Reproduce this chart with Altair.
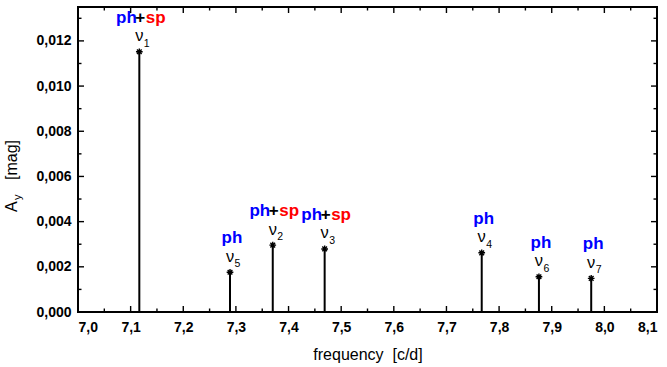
import altair as alt
import pandas as pd

# ---- data ----
freq = [7.1165, 7.3700, 7.4686, 7.7670, 7.2888, 7.8757, 7.9750]
amp = [0.01152, 0.00296, 0.00279, 0.00262, 0.00176, 0.00156, 0.00149]
sub = ["1", "2", "3", "4", "5", "6", "7"]
kind = ["ph+sp", "ph+sp", "ph+sp", "ph", "ph", "ph", "ph"]

x_major = [7.0, 7.1, 7.2, 7.3, 7.4, 7.5, 7.6, 7.7, 7.8, 7.9, 8.0, 8.1]
x_minor = [7.05, 7.15, 7.25, 7.35, 7.45, 7.55, 7.65, 7.75, 7.85, 7.95, 8.05]
y_major = [0.000, 0.002, 0.004, 0.006, 0.008, 0.010, 0.012]
y_minor = [0.001, 0.003, 0.005, 0.007, 0.009, 0.011, 0.013]

W, H = 579, 305
FONT = "Liberation Sans"

df = pd.DataFrame({"freq": freq, "amp": amp, "sub": sub, "kind": kind})
df_sp = df[df["kind"] == "ph+sp"]
df_ph = df[df["kind"] == "ph"]

xscale = alt.Scale(domain=[7.0, 8.1], nice=False, zero=False)
yscale = alt.Scale(domain=[0, 0.0135], nice=False, zero=True)

xaxis = alt.Axis(
    values=x_major, labelExpr="replace(format(datum.value, '.1f'), '.', ',')",
    ticks=False, domain=False, grid=False, labelPadding=8,
    title="frequency\u00a0\u00a0[c/d]", titleFontWeight="normal", titleFontSize=16,
    titlePadding=12, labelFontWeight="bold", labelFontSize=14, labelFont=FONT,
    titleFont=FONT, labelColor="black", titleColor="black",
)
yaxis = alt.Axis(
    values=y_major, labelExpr="replace(format(datum.value, '.3f'), '.', ',')",
    ticks=False, domain=False, grid=False, labelPadding=7, title=None,
    labelFontWeight="bold", labelFontSize=14, labelFont=FONT, labelColor="black",
)

X = alt.X("freq:Q", scale=xscale, axis=xaxis)
Y = alt.Y("amp:Q", scale=yscale, axis=yaxis)

stems = alt.Chart(df).mark_rule(color="black", strokeWidth=2).encode(
    x=X, y=Y, y2=alt.datum(0)
)

ASTER = "M-1,0L1,0M0,-1L0,1M-0.7,-0.7L0.7,0.7M-0.7,0.7L0.7,-0.7"
stars = alt.Chart(df).mark_point(
    shape=ASTER, size=45, filled=False, strokeWidth=1.4, color="black", opacity=1
).encode(x=X, y=Y)

nu = alt.Chart(df).mark_text(
    text="ν", font=FONT, fontSize=16.5, baseline="alphabetic", align="center",
    dy=-10.5, color="black"
).encode(x=X, y=Y)

nusub = alt.Chart(df).mark_text(
    font=FONT, fontSize=10.5, baseline="alphabetic", align="left",
    dx=4.5, dy=-5, color="black"
).encode(x=X, y=Y, text="sub:N")

lab_kw = dict(font=FONT, fontSize=17, fontWeight="bold", baseline="alphabetic", dy=-29)
ph_only = alt.Chart(df_ph).mark_text(text="ph", align="center", dx=2, color="#0000ff", **lab_kw).encode(x=X, y=Y)
ph_sp1 = alt.Chart(df_sp).mark_text(text="ph", align="right", dx=-2.5, color="#0000ff", **lab_kw).encode(x=X, y=Y)
ph_sp2 = alt.Chart(df_sp).mark_text(text="+", align="center", dx=1, color="black", **lab_kw).encode(x=X, y=Y)
ph_sp3 = alt.Chart(df_sp).mark_text(text="sp", align="left", dx=6.5, color="#ff0000", **lab_kw).encode(x=X, y=Y)

# ---- inward ticks on all four sides ----
dxM = pd.DataFrame({"freq": x_major})
dxm = pd.DataFrame({"freq": x_minor})
dyM = pd.DataFrame({"amp": y_major})
dym = pd.DataFrame({"amp": y_minor})
tk = dict(color="black", strokeWidth=1.4)
ticks = [
    alt.Chart(dxM).mark_rule(**tk).encode(x=X, y=alt.value(H), y2=alt.value(H - 6)),
    alt.Chart(dxm).mark_rule(**tk).encode(x=X, y=alt.value(H), y2=alt.value(H - 3.5)),
    alt.Chart(dxM).mark_rule(**tk).encode(x=X, y=alt.value(0), y2=alt.value(6)),
    alt.Chart(dxm).mark_rule(**tk).encode(x=X, y=alt.value(0), y2=alt.value(3.5)),
    alt.Chart(dyM).mark_rule(**tk).encode(y=Y, x=alt.value(0), x2=alt.value(6)),
    alt.Chart(dym).mark_rule(**tk).encode(y=Y, x=alt.value(0), x2=alt.value(3.5)),
    alt.Chart(dyM).mark_rule(**tk).encode(y=Y, x=alt.value(W), x2=alt.value(W - 6)),
    alt.Chart(dym).mark_rule(**tk).encode(y=Y, x=alt.value(W), x2=alt.value(W - 3.5)),
]

# ---- y title with subscript ----
one = pd.DataFrame({"a": [1]})
yt_kw = dict(font=FONT, fontSize=16, angle=270, align="left", baseline="alphabetic", color="black")
ytitle = [
    alt.Chart(one).mark_text(text="A", **yt_kw).encode(x=alt.value(-61), y=alt.value(205)),
    alt.Chart(one).mark_text(text="y", font=FONT, fontSize=11, angle=270, align="left",
                             baseline="alphabetic", color="black").encode(x=alt.value(-57), y=alt.value(193)),
    alt.Chart(one).mark_text(text="[mag]", **yt_kw).encode(x=alt.value(-61), y=alt.value(173)),
]

chart = alt.layer(
    stems, stars, nu, nusub, ph_only, ph_sp1, ph_sp2, ph_sp3, *ticks, *ytitle
).properties(
    width=W, height=H,
    autosize=alt.AutoSizeParams(type="none"),
    padding={"left": 78, "top": 7, "right": 10, "bottom": 55},
    background="white",
).configure_view(stroke="black", strokeWidth=2)

chart.save("out.html", embed_options={"renderer": "svg", "actions": False})
